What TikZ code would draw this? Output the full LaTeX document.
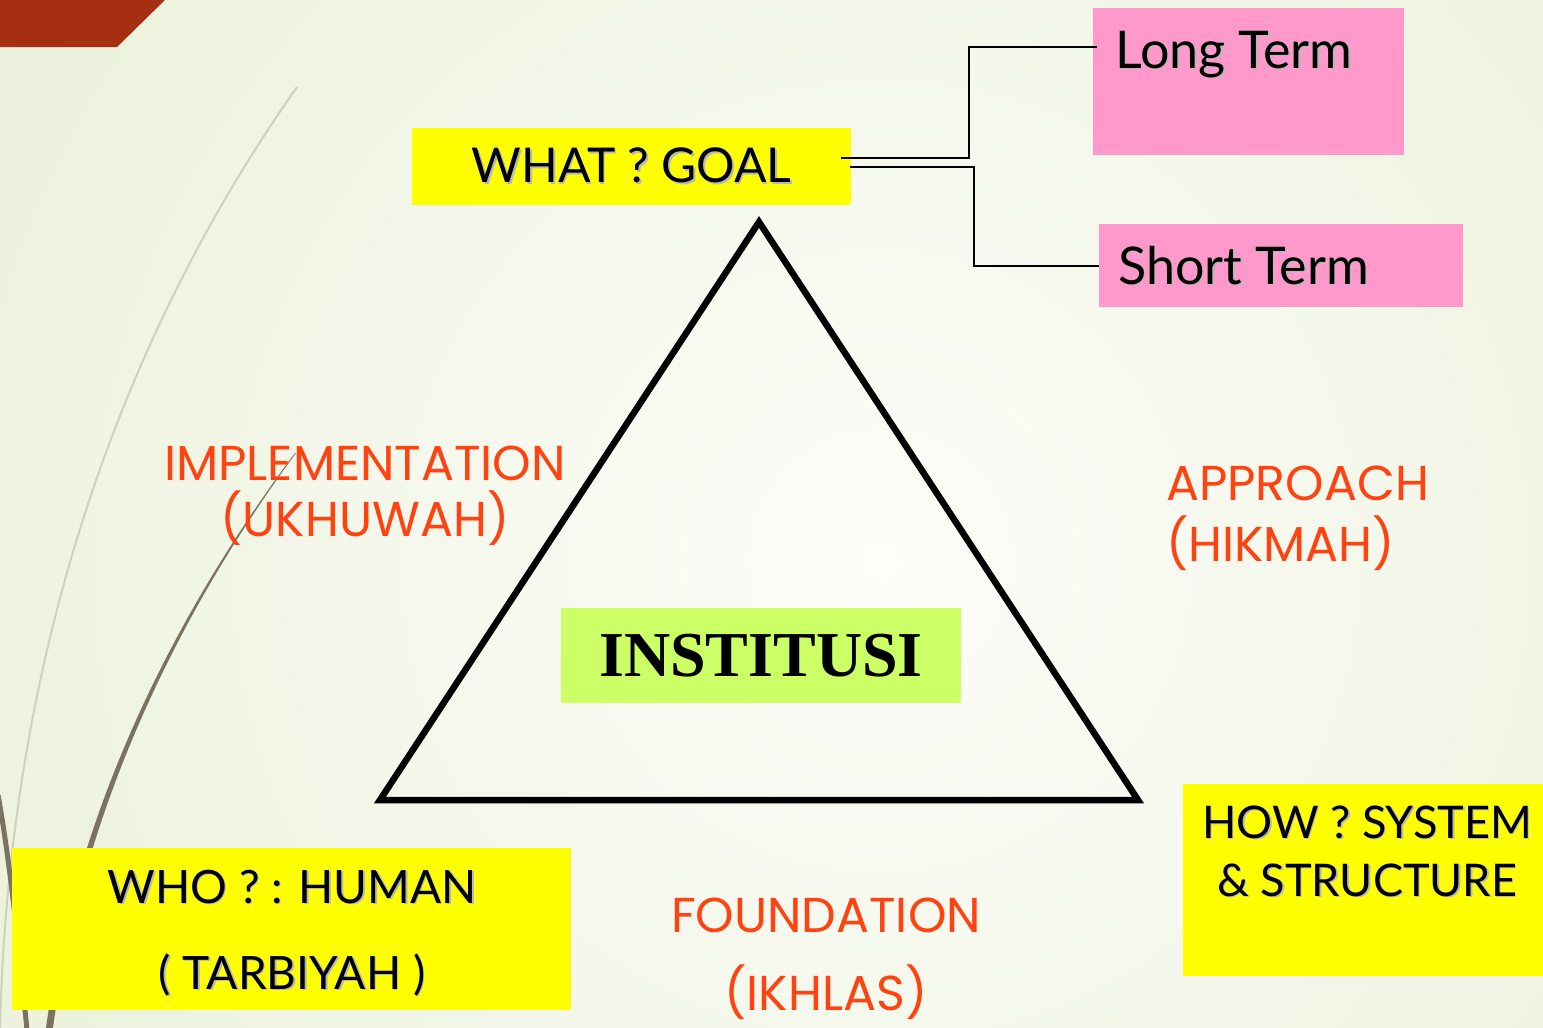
\documentclass[tikz,border=0pt]{standalone}
\usepackage{fontspec}
\setmainfont{Lato}
\newfontfamily\orfont{Poppins}
\newfontfamily\serfont{Liberation Serif}
\usetikzlibrary{calc}
\definecolor{bgout}{HTML}{E0EACA}
\definecolor{bgin}{HTML}{FDFDF9}
\definecolor{redcorner}{HTML}{A52F10}
\definecolor{wispdark}{HTML}{7B7360}
\definecolor{wisplight}{HTML}{CFD0BE}
\definecolor{boxyellow}{HTML}{FFFF00}
\definecolor{boxpink}{HTML}{FF99CC}
\definecolor{boxgreen}{HTML}{CCFF66}
\definecolor{orlabel}{HTML}{FF4210}
\newcommand\shd[1]{\leavevmode\rlap{\kern1.6pt\raisebox{-1.6pt}{\textcolor{black!28}{#1}}}#1}
\tikzset{
  ybox/.style={fill=boxyellow, draw=none, inner sep=0pt},
  pbox/.style={fill=boxpink, draw=none, inner sep=0pt},
  gbox/.style={fill=boxgreen, draw=none, inner sep=0pt},
  blk/.style={text=black, inner sep=0pt, font=\fontsize{46}{58}\selectfont},
  blkbig/.style={text=black, inner sep=0pt, font=\fontsize{52}{60}\selectfont},
  lbl/.style={text=orlabel, inner sep=0pt, font=\orfont\fontsize{49}{58}\selectfont},
  conn/.style={draw=black, line width=2.2pt},
}
\begin{document}
\begin{tikzpicture}[x=1pt,y=-1pt]
\useasboundingbox (0,0) rectangle (1543,1028);
% background
\begin{scope}
\clip (0,0) rectangle (1543,1028);
\shade[inner color=bgin, outer color=bgout] (880,560) circle (1650);
% red corner
\fill[redcorner] (0,0) -- (165,0) -- (117,47) -- (0,47) -- cycle;
% wisp curves
\draw[wisplight, line width=2pt] (297,87) .. controls (140,310) and (10,620) .. (0,1028);
\fill[wispdark] (295,453) .. controls (200,580) and (80,780) .. (46,1028) -- (53,1028) .. controls (86,780) and (202,581) .. (296,453) -- cycle;
\draw[wispdark, line width=5pt] (-2,795) .. controls (10,860) and (20,960) .. (27,1030);
\end{scope}

% triangle
\coordinate (apex) at (759,222);
\coordinate (bl) at (380,800);
\coordinate (br) at (1138,800);
\draw[black, line width=6.5pt, line join=miter] (apex) -- (bl) -- (br) -- cycle;

% boxes
\node[ybox, minimum width=439pt, minimum height=77pt, blk, font=\fontsize{48}{58}\selectfont] (what) at (631.5,166.5) {\shd{WHAT ? GOAL}};
\node[pbox, minimum width=311pt, minimum height=147pt, anchor=north west] (lt) at (1093,8) {};
\node[blkbig, anchor=base west] (ltt) at (1115,68) {\shd{Long Term}};
\node[pbox, minimum width=364pt, minimum height=83pt, anchor=north west] (st) at (1099,224) {};
\node[blkbig, anchor=base west] (stt) at (1118,284) {\shd{Short Term}};

\node[gbox, minimum width=400pt, minimum height=95pt] (inst) at (761,655.5) {\serfont\bfseries\fontsize{64}{70}\selectfont INSTITUSI};

\node[ybox, minimum width=559pt, minimum height=162pt, anchor=north west] (who) at (12,848) {};
\node[blk, anchor=base] (who1) at (292,903) {\shd{WHO ? : HUMAN}};
\node[blk, anchor=base] (who2) at (292,989) {\shd{( TARBIYAH )}};

\node[ybox, minimum width=360pt, minimum height=192pt, anchor=north west] (how) at (1183,784) {};
\node[blk, anchor=base, font=\fontsize{45}{56}\selectfont] (how1) at (1367,838) {\shd{HOW ? SYSTEM}};
\node[blk, anchor=base, font=\fontsize{45}{56}\selectfont] (how2) at (1367,896) {\shd{\& STRUCTURE}};

% connectors
\draw[conn] ($(what.east)+(-10,-8.5)$) -| ($(lt.north west)+(-124,39)$) -- ($(lt.north west)+(4,39)$);
\draw[conn] ($(what.east)+(-1,0.5)$) -| ($(st.west)+(-125,0)$) -- (st.west);

% orange labels
\node[lbl, anchor=base] (imp1) at (365,480) {IMPLEMENTATION};
\node[lbl, anchor=base] (imp2) at (365,536) {(UKHUWAH)};
\node[lbl, anchor=base west] (app1) at (1166,500) {APPROACH};
\node[lbl, anchor=base west] (app2) at (1166,561) {(HIKMAH)};
\node[lbl, anchor=base] (fnd1) at (826,932) {FOUNDATION};
\node[lbl, anchor=base] (fnd2) at (826,1010) {(IKHLAS)};
\end{tikzpicture}
\end{document}
